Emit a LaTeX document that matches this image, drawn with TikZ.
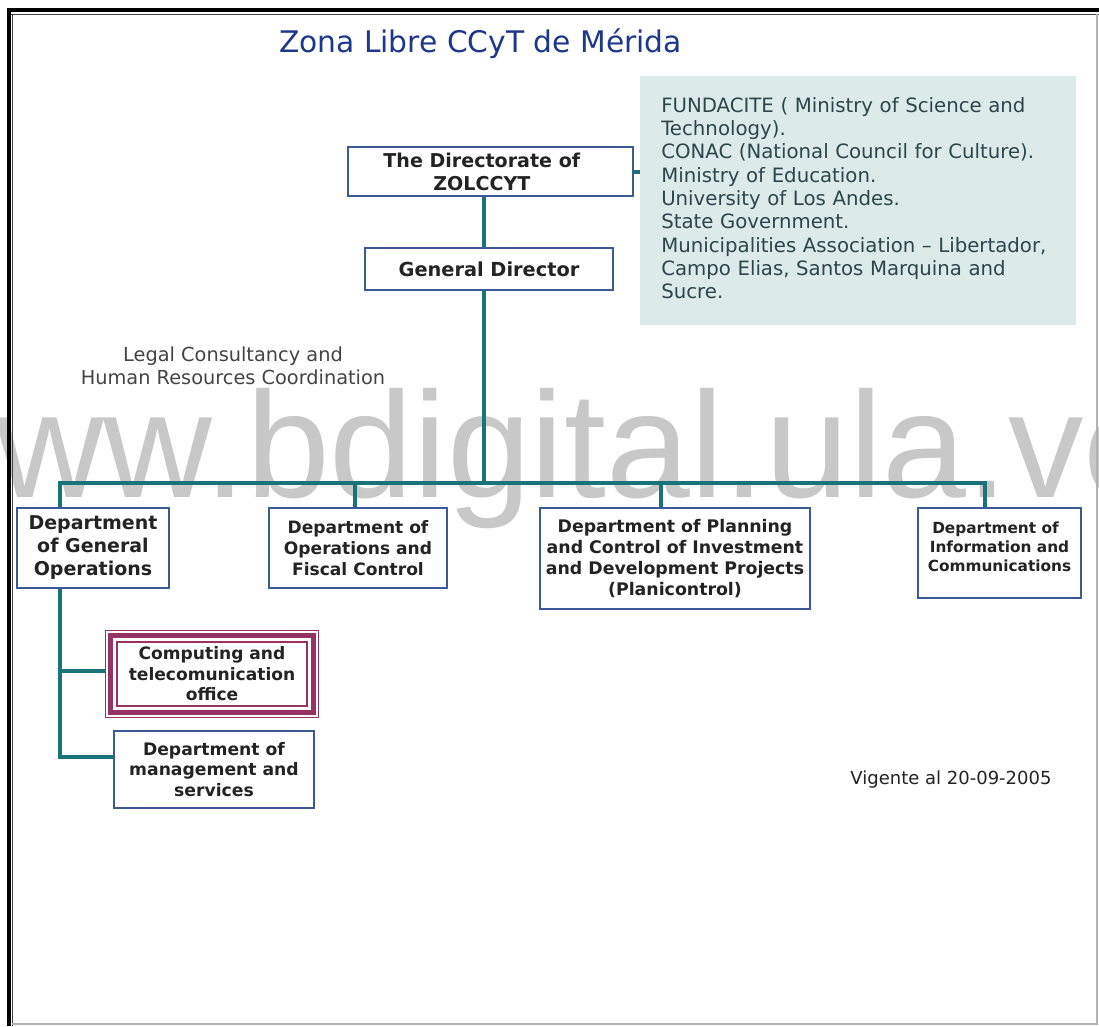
\documentclass[tikz,border=0pt]{standalone}
\usepackage{fontspec}
\setmainfont{DejaVu Sans}
\newfontfamily\wmfont{Liberation Sans}
\definecolor{teal1}{RGB}{25,115,120}
\definecolor{boxblue}{RGB}{60,90,150}
\definecolor{maroonc}{RGB}{150,50,100}
\definecolor{navyt}{RGB}{30,55,140}
\definecolor{panelbg}{RGB}{220,234,234}
\definecolor{paneltxt}{RGB}{45,70,75}
\definecolor{boxtxt}{RGB}{35,35,35}
\definecolor{wmgray}{RGB}{200,200,200}
\pgfdeclarelayer{back}
\pgfdeclarelayer{lines}
\pgfsetlayers{back,lines,main}
\tikzset{
  box/.style={draw=boxblue, line width=1.3pt, fill=white, inner sep=0pt, align=center, text=boxtxt},
  pxsize/.style 2 args={minimum width={#1*0.75pt}, minimum height={#2*0.75pt}},
  conn/.style={draw=teal1, line width=3pt, line join=miter},
}
\begin{document}
\begin{tikzpicture}[x=0.75pt,y=-0.75pt]
\useasboundingbox (0,0) rectangle (1099,1026);
\begin{pgfonlayer}{back}
  \fill[white] (0,0) rectangle (1099,1026);
  \begin{scope}
    \clip (0,0) rectangle (1099,1026);
    \node[anchor=base west, inner sep=0, text=wmgray, font=\wmfont\fontsize{113}{113}\selectfont] (wm) at (-114,497) {www.bdigital.ula.ve};
  \end{scope}
  % frame
  \fill[black] (7,8) rectangle (1099,12);
  \fill[black] (7,8) rectangle (11,1026);
  \draw[black!75, line width=1.2pt] (11,14.5) -- (1099,14.5);
  \draw[black!75, line width=1.2pt] (12.5,14) -- (12.5,1026);
  \draw[black!30, line width=1.2pt] (1097,14) -- (1097,1024) -- (12,1024);
\end{pgfonlayer}

% title
\node[anchor=base, inner sep=0, text=navyt, font=\fontsize{22.3}{26}\selectfont] (title) at (480.5,52) {Zona Libre CCyT de Mérida};

% boxes
\node[box, pxsize={285}{49}, font=\bfseries\fontsize{14.3}{17.25}\selectfont] (dir) at (490.5,171.5) {The Directorate of\hspace*{13pt}\\ZOLCCYT\hspace*{13pt}};
\node[box, pxsize={248}{42}, font=\bfseries\fontsize{14.5}{17}\selectfont] (gd) at (489,269) {General Director};
\node[box, pxsize={152}{80}, font=\bfseries\fontsize{14.25}{17.25}\selectfont] (genops) at (93,548) {Department\\of General\\Operations};
\node[box, pxsize={178}{80}, font=\bfseries\fontsize{12.8}{15.75}\selectfont] (ops) at (358,548) {Department of\\Operations and\\Fiscal Control};
\node[box, pxsize={270}{101}, font=\bfseries\fontsize{13}{15.75}\selectfont] (plan) at (675,558.5) {Department of Planning\\and Control of Investment\\and Development Projects\\(Planicontrol)};
\node[box, pxsize={163}{90}, font=\bfseries\fontsize{11.5}{14.25}\selectfont] (info) at (999.5,553) {Department of\hspace*{6pt}\\Information and\hspace*{6pt}\\Communications\hspace*{6pt}\\[-4pt]\mbox{}};
\node[box, draw=maroonc, line width=1.1pt, pxsize={213}{87}, font=\bfseries\fontsize{12.8}{15.4}\selectfont] (comp) at (212,674) {Computing and\\telecomunication\\office};
\draw[maroonc, line width=3.8pt] ([shift={(5.5,5.5)}]comp.north west) rectangle ([shift={(-5.5,-5.5)}]comp.south east);
\draw[maroonc, line width=1.2pt] ([shift={(12.5,12.5)}]comp.north west) rectangle ([shift={(-12.5,-12.5)}]comp.south east);
\node[box, pxsize={200}{77}, font=\bfseries\fontsize{12.9}{15.4}\selectfont] (mgmt) at (214,769.5) {Department of\\management and\\services};

% panel
\node[fill=panelbg, inner sep=0pt, pxsize={436}{249}] (panel) at (858,200.5) {};
\node[anchor=north west, inner sep=0pt, text width=300pt, align=left, text=paneltxt, font=\fontsize{14.8}{17.5}\selectfont] (paneltext) at (661,97) {FUNDACITE ( Ministry of Science and\\Technology).\\CONAC (National Council for Culture).\\Ministry of Education.\\University of Los Andes.\\State Government.\\Municipalities Association -- Libertador,\\Campo Elias, Santos Marquina and\\Sucre.};

% free texts
\node[align=center, inner sep=0, text=boxtxt!85, font=\fontsize{14.5}{17.25}\selectfont] (legal) at (233,366) {Legal Consultancy and\\Human Resources Coordination};
\node[inner sep=0, text=boxtxt, font=\fontsize{13.5}{16}\selectfont] (vig) at (951,780) {Vigente al 20-09-2005};

% connectors
\coordinate (spine) at (484,483);
\coordinate (bL) at (60,483);
\coordinate (bR) at (985,483);
\coordinate (b2) at (355,483);
\coordinate (b3) at (661,483);
\coordinate (sub1) at (60,671);
\coordinate (sub2) at (60,757);
\begin{pgfonlayer}{lines}
  \draw[conn] (dir.south -| spine) -- (gd.north -| spine);
  \draw[conn] (gd.south -| spine) -- (spine);
  \draw[conn] (genops.north -| bL) -- (bL) -- (bR) -- (info.north -| bR);
  \draw[conn] (b2) -- (ops.north -| b2);
  \draw[conn] (b3) -- (plan.north -| b3);
  \draw[conn] (genops.south -| bL) -- (sub2) -- (mgmt.west |- sub2);
  \draw[conn] (sub1) -- (comp.west |- sub1);
  \draw[conn] (dir.east) -- (dir.east -| panel.west);
\end{pgfonlayer}
\end{tikzpicture}
\end{document}
